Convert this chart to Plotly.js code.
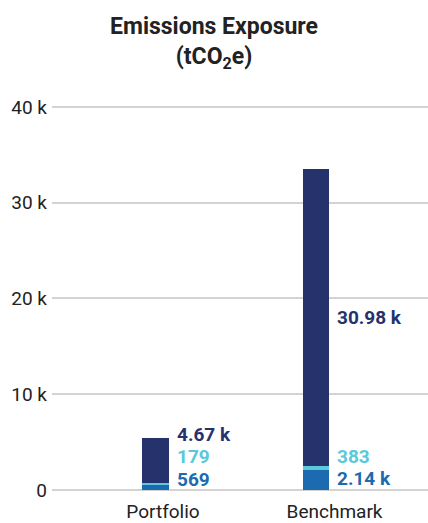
<!DOCTYPE html>
<html>
<head>
<meta charset="utf-8">
<script src="https://cdn.plot.ly/plotly-3.0.1.min.js"></script>
<style>
  html, body { margin: 0; padding: 0; background: #fff; }
  #chart { width: 428px; height: 523px; }
</style>
</head>
<body>
<div id="chart"></div>
<script>
// Emissions exposure by portfolio vs benchmark (tCO2e), stacked by component
const categories = ['Portfolio', 'Benchmark'];
const scope1 = [569, 2140];     // bottom segment
const scope2 = [179, 383];      // middle segment
const scope3 = [4670, 30980];   // top segment
const valueLabels = [
  ['569', '2.14 k'],
  ['179', '383'],
  ['4.67 k', '30.98 k']
];
const yTickVals = [0, 10000, 20000, 30000, 40000];
const yTickText = ['0', '10 k', '20 k', '30 k', '40 k'];

const colors = ['#1C6AB0', '#5BC8DB', '#26326B'];
const series = [scope1, scope2, scope3];

const W = 428, H = 523;
const M = { l: 52, r: 0, t: 105, b: 33 };
const yMax = 40200;
const xRange = [-0.647, 1.545];
const plotW = W - M.l - M.r;
const plotH = H - M.t - M.b;
const pxPerX = plotW / (xRange[1] - xRange[0]);
const pxPerUnit = plotH / yMax;

// Bars sit a little left of their category so the value labels fit beside them
const barWidth = 0.157;
const barOffset = [-0.1195, -0.1866];
const labelGapX = 8;        // px between bar edge and its labels
const labelGapPx = 22;      // minimum vertical spacing between stacked labels
const labelFloorPx = 11;    // lowest label centre above the baseline

const traces = series.map((vals, i) => ({
  type: 'bar',
  x: categories,
  y: vals,
  width: barWidth,
  offset: barOffset,
  marker: { color: colors[i], line: { width: 0 } },
  hoverinfo: 'skip',
  showlegend: false
}));

// Value labels to the right of each bar, centred on their segment and
// nudged upward so neighbouring labels never overlap.
const annotations = [];
categories.forEach((cat, ci) => {
  let base = 0;
  let lastPx = -Infinity;
  const rightEdgePx = (barOffset[ci] + barWidth) * pxPerX;
  series.forEach((vals, si) => {
    const mid = base + vals[ci] / 2;
    base += vals[ci];
    const midPx = mid * pxPerUnit;
    let px = Math.max(midPx, labelFloorPx, lastPx + labelGapPx);
    lastPx = px;
    annotations.push({
      x: cat, y: mid, xref: 'x', yref: 'y',
      text: '<b>' + valueLabels[si][ci] + '</b>',
      showarrow: false,
      xanchor: 'left', yanchor: 'middle',
      xshift: rightEdgePx + labelGapX - 2,
      yshift: px - midPx,
      font: { family: 'Roboto, sans-serif', size: 19, color: colors[si] }
    });
  });
});

const layout = {
  width: W, height: H,
  margin: M,
  paper_bgcolor: '#ffffff',
  plot_bgcolor: '#ffffff',
  barmode: 'stack',
  title: {
    text: '<b>Emissions Exposure</b><br><b>(tCO<sub>2</sub>e)</b>',
    font: { family: 'Roboto, sans-serif', size: 23, color: '#222222' },
    x: 0.5, xanchor: 'center',
    y: 1 - 34 / H, yanchor: 'top', yref: 'container'
  },
  xaxis: {
    type: 'category',
    range: xRange,
    showgrid: false, zeroline: false, showline: false,
    ticks: '',
    ticklabelstandoff: 8,
    tickfont: { family: 'Roboto, sans-serif', size: 19, color: '#222222' },
    fixedrange: true
  },
  yaxis: {
    range: [0, yMax],
    tickvals: yTickVals,
    ticktext: yTickText,
    showgrid: true, gridcolor: '#D3D3D3', gridwidth: 2,
    zeroline: true, zerolinecolor: '#D3D3D3', zerolinewidth: 2,
    showline: false,
    ticks: '',
    ticklabelstandoff: 4,
    tickfont: { family: 'Roboto, sans-serif', size: 19, color: '#222222' },
    fixedrange: true
  },
  annotations: annotations
};

Plotly.newPlot('chart', traces, layout, { displayModeBar: false, staticPlot: true });
</script>
</body>
</html>
